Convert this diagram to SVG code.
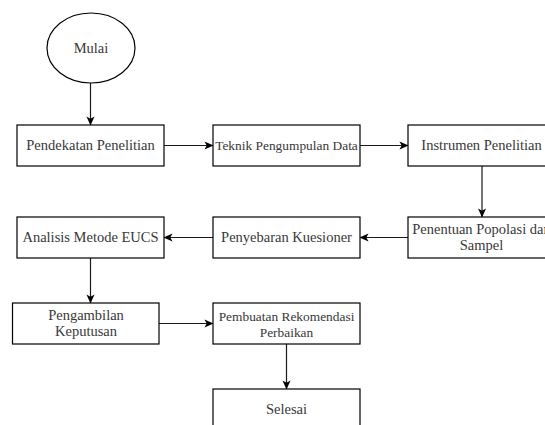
<svg xmlns="http://www.w3.org/2000/svg" width="545" height="425" viewBox="0 0 545 425">
<style>
.box{fill:#fff;stroke:#000;stroke-width:1.2}
.t{font-family:"Liberation Serif","DejaVu Serif",serif;font-size:14.5px;fill:#383838;text-anchor:middle}
.s{font-size:13.4px}
.c{fill:none;stroke:#1a1a1a;stroke-width:1.2}
</style>
<defs>
<marker id="a" viewBox="0 0 10 10" refX="9.5" refY="5" markerWidth="9" markerHeight="9" markerUnits="userSpaceOnUse" orient="auto">
<path d="M0,0.5 L10,5 L0,9.5 L2.5,5 Z" fill="#000"/>
</marker>
</defs>
<rect width="545" height="425" fill="#fff"/>
<g id="connectors">
<path class="c" d="M90.5,83 V125" marker-end="url(#a)"/>
<path class="c" d="M164,145.5 H213" marker-end="url(#a)"/>
<path class="c" d="M360,145.5 H408" marker-end="url(#a)"/>
<path class="c" d="M482,166 V217" marker-end="url(#a)"/>
<path class="c" d="M408,237.5 H360" marker-end="url(#a)"/>
<path class="c" d="M213,237.5 H164" marker-end="url(#a)"/>
<path class="c" d="M90.5,258 V303" marker-end="url(#a)"/>
<path class="c" d="M159,323.5 H213" marker-end="url(#a)"/>
<path class="c" d="M286.5,344 V389" marker-end="url(#a)"/>
</g>
<g id="mulai">
<ellipse class="box" cx="91" cy="48" rx="44" ry="35"/>
<text class="t" x="91" y="53">Mulai</text>
</g>
<g id="pendekatan">
<rect class="box" x="17" y="125" width="147" height="41"/>
<text class="t" x="90.5" y="150">Pendekatan Penelitian</text>
</g>
<g id="teknik">
<rect class="box" x="213" y="125" width="147" height="41"/>
<text class="t s" x="286.5" y="150">Teknik Pengumpulan Data</text>
</g>
<g id="instrumen">
<rect class="box" x="408" y="125" width="147" height="41"/>
<text class="t" x="481.5" y="150">Instrumen Penelitian</text>
</g>
<g id="penentuan">
<rect class="box" x="408" y="217" width="147" height="41"/>
<text class="t" x="481.5" y="234">Penentuan Popolasi dan</text>
<text class="t" x="481.5" y="250">Sampel</text>
</g>
<g id="penyebaran">
<rect class="box" x="213" y="217" width="147" height="41"/>
<text class="t" x="286.5" y="242">Penyebaran Kuesioner</text>
</g>
<g id="analisis">
<rect class="box" x="17" y="217" width="147" height="41"/>
<text class="t" x="90.5" y="242">Analisis Metode EUCS</text>
</g>
<g id="pengambilan">
<rect class="box" x="12.5" y="303" width="146.5" height="41"/>
<text class="t" x="86" y="320">Pengambilan</text>
<text class="t" x="86" y="336">Keputusan</text>
</g>
<g id="pembuatan">
<rect class="box" x="213" y="303" width="147" height="41"/>
<text class="t s" x="286.5" y="321">Pembuatan Rekomendasi</text>
<text class="t s" x="286.5" y="337">Perbaikan</text>
</g>
<g id="selesai">
<rect class="box" x="213" y="389" width="147" height="41"/>
<text class="t" x="286.5" y="414">Selesai</text>
</g>
</svg>
